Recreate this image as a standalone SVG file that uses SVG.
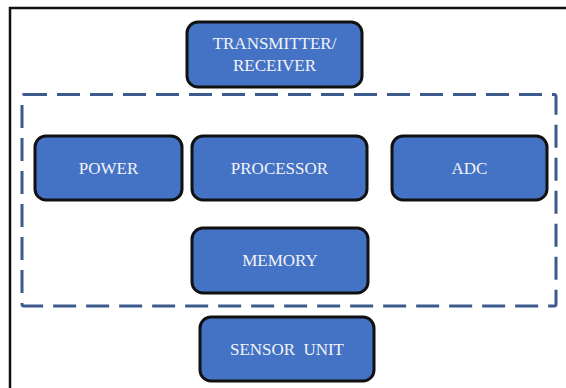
<svg xmlns="http://www.w3.org/2000/svg" width="566" height="388" viewBox="0 0 566 388">
  <style>
    .box { fill: #4472C4; stroke: #111111; stroke-width: 3; }
    .lbl { font-family: "Liberation Serif", "Times New Roman", serif; font-size: 17px; fill: #F2F4F8; text-anchor: middle; }
    .frame { fill: none; stroke: #111111; stroke-width: 2.5; }
    .group { fill: none; stroke: #3D5A8C; stroke-width: 3; stroke-dasharray: 23 10; }
  </style>
  <rect width="566" height="388" fill="#FFFFFF"/>
  <path class="frame" d="M10 388 V8 H566"/>
  <g id="connectors">
    <rect class="group" x="22" y="94.5" width="534" height="211.5" rx="2"/>
  </g>
  <g id="transmitter">
    <rect class="box" x="187" y="22" width="175" height="65" rx="11"/>
    <text class="lbl" x="274.5" y="49">TRANSMITTER/</text>
    <text class="lbl" x="274.5" y="71">RECEIVER</text>
  </g>
  <g id="power">
    <rect class="box" x="35" y="136" width="147" height="64" rx="11"/>
    <text class="lbl" x="108.5" y="174">POWER</text>
  </g>
  <g id="processor">
    <rect class="box" x="192" y="136" width="175" height="64" rx="11"/>
    <text class="lbl" x="279.5" y="174">PROCESSOR</text>
  </g>
  <g id="adc">
    <rect class="box" x="392" y="136" width="155" height="64" rx="11"/>
    <text class="lbl" x="469.5" y="174">ADC</text>
  </g>
  <g id="memory">
    <rect class="box" x="192" y="228" width="176" height="65" rx="11"/>
    <text class="lbl" x="280" y="266">MEMORY</text>
  </g>
  <g id="sensor">
    <rect class="box" x="200" y="317" width="174" height="64" rx="11"/>
    <text class="lbl" x="287" y="355" word-spacing="4">SENSOR UNIT</text>
  </g>
</svg>
